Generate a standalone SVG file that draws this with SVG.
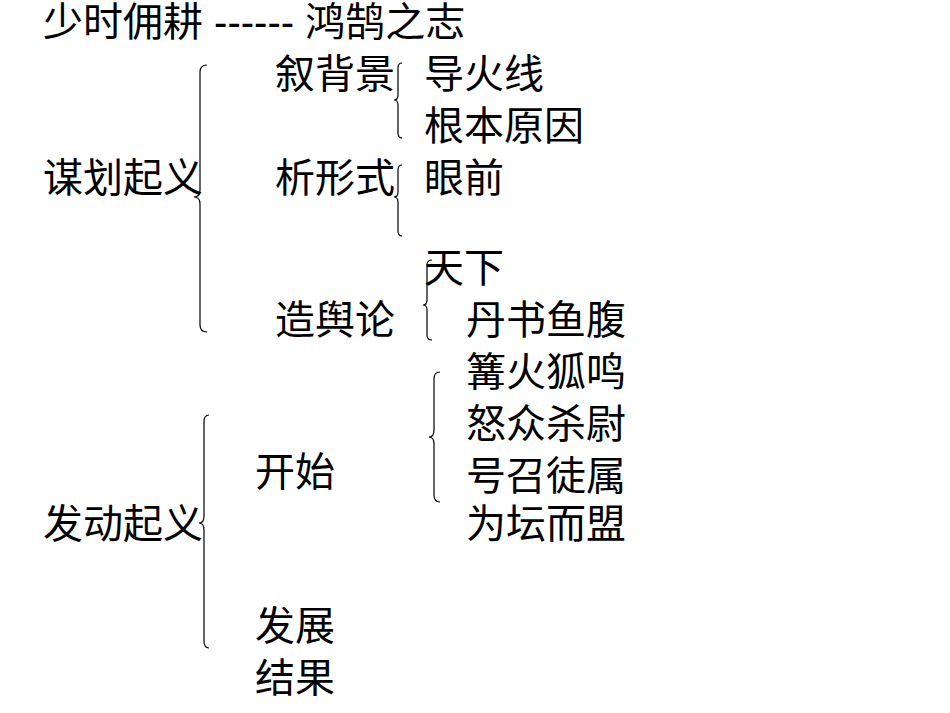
<svg xmlns="http://www.w3.org/2000/svg" width="950" height="713" viewBox="0 0 950 713">
<style>
text{font-family:"Liberation Sans","Noto Sans CJK SC",sans-serif;font-size:40px;fill:#000}
.b{fill:none;stroke:#000;stroke-width:1.2}
</style>
<rect width="950" height="713" fill="#fff"/>
<g id="labels">
<text x="43" y="36">少时佣耕 ------ 鸿鹄之志</text>
<text x="275" y="88">叙背景</text>
<text x="424" y="88">导火线</text>
<text x="424" y="140">根本原因</text>
<text x="43" y="192">谋划起义</text>
<text x="275" y="192">析形式</text>
<text x="424" y="192">眼前</text>
<text x="424" y="282">天下</text>
<text x="275" y="334">造舆论</text>
<text x="466" y="334">丹书鱼腹</text>
<text x="466" y="386">篝火狐鸣</text>
<text x="466" y="438">怒众杀尉</text>
<text x="255" y="486">开始</text>
<text x="466" y="490">号召徒属</text>
<text x="43" y="538">发动起义</text>
<text x="466" y="538">为坛而盟</text>
<text x="255" y="640">发展</text>
<text x="255" y="692">结果</text>
</g>
<g id="connectors">
<path class="b" d="M207,65 Q200,65 200,72 V190 Q200,197 194,197 Q200,197 200,204 V325 Q200,332 207,332"/>
<path class="b" d="M402,63 Q398,63 398,68 V95 Q398,100 394,100 Q398,100 398,105 V133 Q398,138 402,138"/>
<path class="b" d="M402,165 Q398,165 398,170 V192 Q398,197 394,197 Q398,197 398,202 V231 Q398,236 402,236"/>
<path class="b" d="M432,260 Q427,260 427,265 V300 Q427,305 423,305 Q427,305 427,310 V335 Q427,340 432,340"/>
<path class="b" d="M209,415 Q204,415 204,422 V516 Q204,523 199,523 Q204,523 204,530 V641 Q204,648 209,648"/>
<path class="b" d="M440,372 Q434,372 434,379 V430 Q434,437 429,437 Q434,437 434,444 V495 Q434,502 440,502"/>
</g>
</svg>
